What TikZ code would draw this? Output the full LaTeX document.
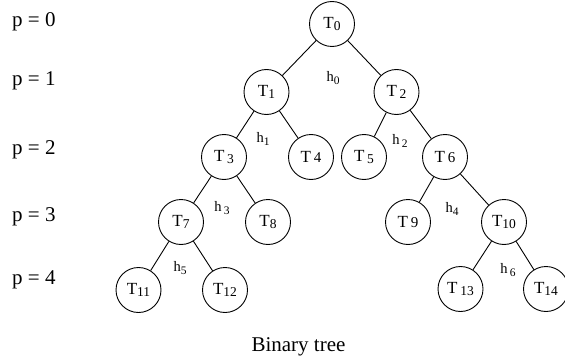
\documentclass[tikz,border=0pt]{standalone}
\usepackage{fontspec}
\setmainfont{Liberation Serif}
\newcommand{\tsub}[1]{\raisebox{-2.5pt}{\fontsize{13.5}{13.5}\selectfont #1}}
\newcommand{\tsup}[1]{\,{\fontsize{15}{15}\selectfont #1}}
\newcommand{\hsub}[1]{\raisebox{-3pt}{\fontsize{11.5}{11.5}\selectfont #1}}
\begin{document}
\begin{tikzpicture}[x=1pt,y=-1pt,
  tnode/.style={circle,draw,line width=0.9pt,minimum size=45pt,inner sep=0pt,
    font=\fontsize{17}{17}\selectfont},
  edge/.style={line width=0.9pt},
  hlab/.style={font=\fontsize{14.5}{14.5}\selectfont,inner sep=0pt},
  plab/.style={font=\fontsize{21}{21}\selectfont,anchor=base west,inner sep=0pt},
  captext/.style={font=\fontsize{21}{21}\selectfont,anchor=base,inner sep=0pt}]
\useasboundingbox (0,0) rectangle (565,361);
% level labels
\node[plab] (p0) at (12,27) {p = 0};
\node[plab] (p1) at (12,85) {p = 1};
\node[plab] (p2) at (12,154) {p = 2};
\node[plab] (p3) at (12,221) {p = 3};
\node[plab] (p4) at (12,284) {p = 4};
% nodes
\node[tnode] (T0) at (332,24) {T\tsub{0}};
\node[tnode] (T1) at (266.5,92) {T\tsub{1}};
\node[tnode] (T2) at (396.5,92) {T\,\tsub{2}};
\node[tnode] (T3) at (224,157) {T\,\tsub{3}};
\node[tnode] (T4) at (311,157) {T\tsup{4}};
\node[tnode] (T5) at (364,157) {T\,\tsub{5}};
\node[tnode] (T6) at (445,157) {T\tsup{6}};
\node[tnode] (T7) at (181,222) {T\tsub{7}};
\node[tnode] (T8) at (268,222) {T\tsub{8}};
\node[tnode] (T9) at (408,222) {T\tsup{9}};
\node[tnode] (T10) at (504,222) {T\tsub{10}};
\node[tnode] (T11) at (138.5,290) {T\tsub{11}};
\node[tnode] (T12) at (225,290) {T\tsub{12}};
\node[tnode] (T13) at (460.5,289) {T\,\tsub{13}};
\node[tnode] (T14) at (546,289) {T\tsub{14}};
% edges
\draw[edge] (T0) -- (T1);
\draw[edge] (T0) -- (T2);
\draw[edge] (T1) -- (T3);
\draw[edge] (T1) -- (T4);
\draw[edge] (T2) -- (T5);
\draw[edge] (T2) -- (T6);
\draw[edge] (T3) -- (T7);
\draw[edge] (T3) -- (T8);
\draw[edge] (T6) -- (T9);
\draw[edge] (T6) -- (T10);
\draw[edge] (T7) -- (T11);
\draw[edge] (T7) -- (T12);
\draw[edge] (T10) -- (T13);
\draw[edge] (T10) -- (T14);
% h labels
\node[hlab] (h0) at (333,78) {h\hsub{0}};
\node[hlab] (h1) at (263,139) {h\hsub{1}};
\node[hlab] (h2) at (400,141) {h\,\hsub{2}};
\node[hlab] (h3) at (222,208) {h\,\hsub{3}};
\node[hlab] (h4) at (452,209) {h\hsub{4}};
\node[hlab] (h5) at (180,268) {h\hsub{5}};
\node[hlab] (h6) at (508,270) {h\,\hsub{6}};
% caption
\node[captext] (caption) at (298.5,351) {Binary tree};
\end{tikzpicture}
\end{document}
